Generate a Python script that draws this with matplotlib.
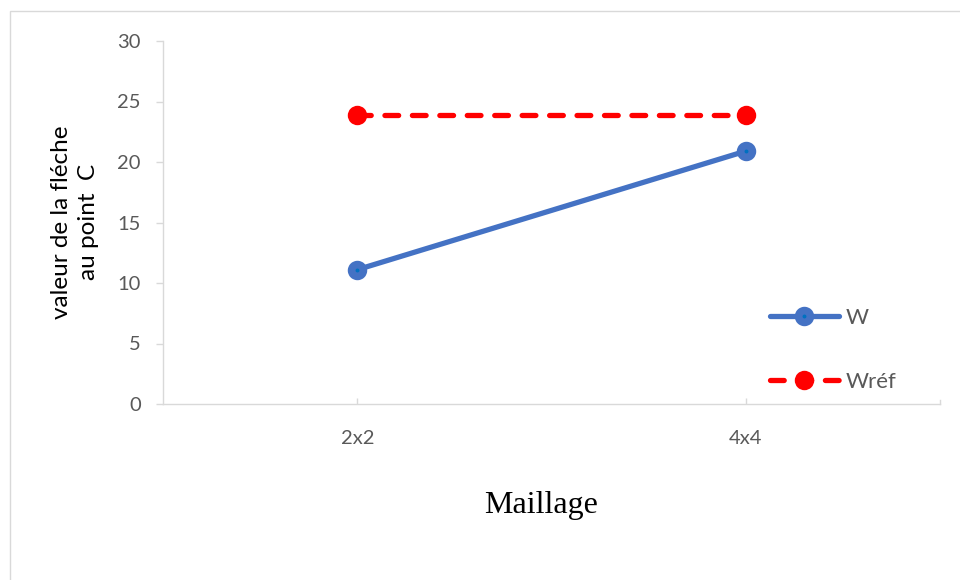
import matplotlib
matplotlib.use("Agg")
import matplotlib.pyplot as plt
from matplotlib.patches import Rectangle

# Data
categories = ["2x2", "4x4"]
w_values = [11.1, 20.9]
wref_values = [23.9, 23.9]
y_ticks = [0, 5, 10, 15, 20, 25, 30]

plt.rcParams["font.family"] = ["Lato", "DejaVu Sans"]

fig = plt.figure(figsize=(9.6, 5.8), dpi=100)
ax = fig.add_axes([163 / 960, 1 - 404 / 580, (940 - 163) / 960, (404 - 41) / 580])

x = list(range(len(categories)))

ax.plot(x, w_values, color="#4472C4", lw=3.8, solid_capstyle="round",
        marker="o", ms=8.5, mfc="#0070C0", mec="#4472C4", mew=5.5, label="W", zorder=3)
ax.plot(x, wref_values, color="#FF0000", lw=3.8, linestyle=(0, (2.6, 2.6)),
        dash_capstyle="round", marker="o", ms=14, mfc="#FF0000", mec="#FF0000",
        mew=0, label="Wréf", zorder=3)

ax.set_xlim(-0.5, 1.5)
ax.set_ylim(0, 30)
ax.set_yticks(y_ticks)
ax.set_xticks(x)
ax.set_xticklabels(categories)

for side in ["top", "right"]:
    ax.spines[side].set_visible(False)
for side in ["left", "bottom"]:
    ax.spines[side].set_color("#D9D9D9")
    ax.spines[side].set_linewidth(1.0)

ax.tick_params(axis="y", direction="out", length=5, width=1, color="#D9D9D9",
               labelsize=14.5, labelcolor="#595959", pad=11)
ax.tick_params(axis="x", direction="in", length=4, width=1, color="#D9D9D9",
               labelsize=14.5, labelcolor="#595959", pad=19)
# end tick at the right edge of the category axis
ax.plot([1.5, 1.5], [0, 0.35], color="#D9D9D9", lw=1, clip_on=False)

fig.text(75 / 960, 1 - 222 / 580, "valeur de la fléche\nau point  C", fontsize=17.5,
         color="black", rotation=90, ha="center", va="center", linespacing=1.3,
         multialignment="center")

fig.text(541 / 960, 1 - 505 / 580, "Maillage", family="Liberation Serif",
         fontsize=23, ha="center", va="center", color="black")

leg = ax.legend(loc="center left", bbox_to_anchor=(750 / 960, 1 - 350 / 580),
                bbox_transform=fig.transFigure, frameon=False, fontsize=16,
                handlelength=3.1, labelspacing=2.0, handletextpad=0.3)
for t in leg.get_texts():
    t.set_color("#595959")

# chart area border
fig.patches.append(Rectangle((10 / 960, -0.1), 1.2, 1 - 11 / 580 + 0.1,
                             transform=fig.transFigure, fill=False,
                             edgecolor="#D9D9D9", lw=1, clip_on=False))

fig.savefig("out.png", dpi=100, facecolor="white")
